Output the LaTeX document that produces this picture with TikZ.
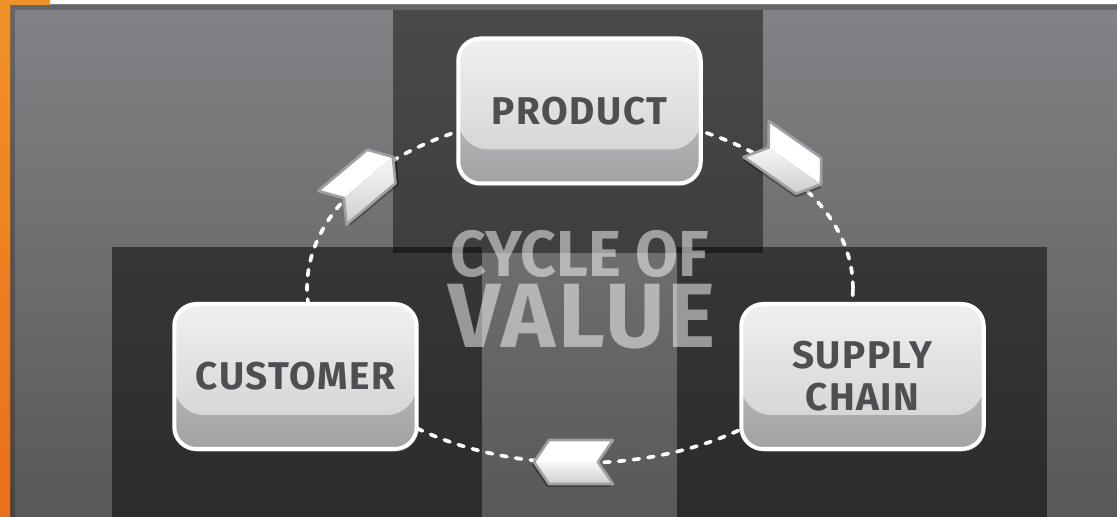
\documentclass[tikz,border=0pt]{standalone}
\usepackage{fontspec}
\setmainfont{Fira Sans}[LetterSpace=4]
\newfontfamily\bigfont{Fira Sans}[FakeStretch=0.96]
\newfontfamily\valuefont{Fira Sans}[LetterSpace=3]
\usetikzlibrary{shadows, positioning}

\definecolor{bgtop}{HTML}{838387}
\definecolor{bgbot}{HTML}{58585A}
\definecolor{orangetop}{HTML}{F0922A}
\definecolor{orangebot}{HTML}{E8701E}
\definecolor{boxtext}{HTML}{4F4F53}
\definecolor{boxlow}{HTML}{A2A2A6}
\definecolor{chevline}{HTML}{A0A0A4}

\tikzset{
  stage/.style={draw=white, line width=2.3pt, rounded corners=0.44cm,
    minimum width=4.85cm, minimum height=2.9cm, align=center, fill=gray!8,
    path picture={
      \shade[top color=gray!40, bottom color=boxlow]
        (path picture bounding box.south west) rectangle (path picture bounding box.north east);
      \shade[top color=gray!7, middle color=gray!11, bottom color=gray!32, rounded corners=0.6cm]
        ([yshift=-2.22cm]path picture bounding box.north west) rectangle ([yshift=0.5cm]path picture bounding box.north east);
    },
    text=boxtext, font=\fontsize{22}{24}\selectfont\bfseries,
    drop shadow={opacity=0.45, shadow xshift=0.6pt, shadow yshift=-1.6pt}},
  title/.style={text=white, text opacity=0.5, inner sep=0pt, text depth=0pt},
  pics/chev/.style={code={
    \fill[black, opacity=0.35] (41,-3) -- (26,19) -- (-38,19) -- (-23,-3) -- (-38,-25) -- (26,-25) -- cycle;
    \fill[white] (39,0) -- (24,22) -- (-40,22) -- (-25,0) -- cycle;
    \shade[top color=gray!6, bottom color=gray!38] (39,0) -- (-25,0) -- (-40,-22) -- (24,-22) -- cycle;
    \draw[chevline, line width=1.5pt, line join=round]
      (39,0) -- (24,22) -- (-40,22) -- (-25,0) -- (-40,-22) -- (24,-22) -- cycle;
  }}
}

\begin{document}
\begin{tikzpicture}[x=0.02cm, y=0.02cm]
  \useasboundingbox (0,0) rectangle (1117,517);

  % frame and background panels
  \fill[white] (0,512) rectangle (1117,517);
  \shade[top color=bgtop, bottom color=bgbot] (10,0) rectangle (1117,512);
  \fill[black, opacity=0.22] (10,507) rectangle (1117,512);
  \fill[black, opacity=0.22] (10,0) rectangle (15,507);
  \shade[top color=orangetop, bottom color=orangebot] (0,0) rectangle (10,517);
  \fill[orangetop] (0,512) rectangle (50,517);
  \fill[black, opacity=0.43] (393,264) rectangle (763,507);
  \fill[black, opacity=0.5] (112,0) rectangle (482,270);
  \fill[black, opacity=0.5] (677,0) rectangle (1047,270);

  % title
  \node[title, text height=25.5pt, font=\bigfont\fontsize{37}{37}\selectfont\bfseries] (cycle) at (580,262.5) {CYCLE OF};
  \node[title, text height=35.7pt, font=\valuefont\fontsize{52}{52}\selectfont\bfseries] (value) at (582,200.5) {VALUE};

  % loop
  \coordinate (mid) at (580,229);
  \draw[white, line width=2.1pt, line cap=round, dash pattern=on 3.4pt off 5pt]
    (mid) ellipse [x radius=5.46cm, y radius=3.5cm];

  \node[stage] (product) at (579.5,406) {PRODUCT};
  \node[stage] (customer) at (295.5,140.5) {CUSTOMER};
  \node[stage] (supply) at (862.5,140.5) {SUPPLY\\CHAIN};

  \pic[rotate=40] (toprod) at (363,335) {chev};
  \pic[rotate=-35] (tosupply) at (789,355) {chev};
  \pic[xscale=-1] (tocust) at (573,55) {chev};
\end{tikzpicture}
\end{document}
